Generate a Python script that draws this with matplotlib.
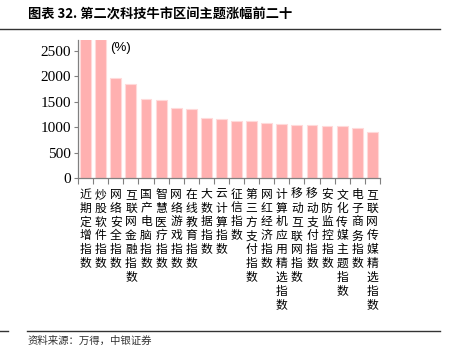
import matplotlib
matplotlib.use('Agg')
import matplotlib.pyplot as plt
import numpy as np
from matplotlib.lines import Line2D

plt.rcParams['font.family'] = ['Noto Sans CJK SC', 'DejaVu Sans']
plt.rcParams['axes.unicode_minus'] = False

# data
themes = ['近期定增指数', '炒股软件指数', '网络安全指数', '互联网金融指数', '国产电脑指数',
          '智慧医疗指数', '网络游戏指数', '在线教育指数', '大数据指数', '云计算指数',
          '征信指数', '第三方支付指数', '网红经济指数', '计算机应用精选指数', '移动互联网指数',
          '移动支付指数', '安防监控指数', '文化传媒主题指数', '电子商务指数', '互联网传媒精选指数']
gains = [2750, 2740, 1967, 1849, 1556, 1537, 1373, 1354, 1178, 1152,
         1126, 1120, 1081, 1061, 1048, 1042, 1029, 1022, 977, 911]
yticks = [0, 500, 1000, 1500, 2000, 2500]

title = '图表 32. 第二次科技牛市区间主题涨幅前二十'
source = '资料来源：万得，中银证券'

fig = plt.figure(figsize=(4.49, 3.61), dpi=100)
ax = fig.add_axes([0.174, 0.507, 0.672, 0.382])

x = np.arange(len(themes))
ax.bar(x, gains, width=0.72, color='#FFB0B0', edgecolor='#FFDADA', linewidth=0.8)

ax.set_xlim(-0.5, len(themes) - 0.5)
ax.set_ylim(0, 2710)
ax.set_yticks(yticks)
ax.set_yticklabels([str(v) for v in yticks], family='Liberation Serif', fontsize=11)

ax.set_xticks(x)
ax.set_xticklabels(['\n'.join(t) for t in themes], fontsize=8.5, va='top', linespacing=1.09)
ax.tick_params(axis='x', which='major', length=0, pad=7)
ax.set_xticks(np.arange(-0.5, len(themes), 1), minor=True)
ax.tick_params(axis='x', which='minor', length=4, color='#808080', width=0.8, direction='out')
ax.tick_params(axis='y', length=3, color='#808080', width=0.8, direction='out', pad=2)

for s in ['top', 'right']:
    ax.spines[s].set_visible(False)
for s in ['left', 'bottom']:
    ax.spines[s].set_color('#808080')
    ax.spines[s].set_linewidth(0.9)

ax.text(0.106, 0.985, '(%)', transform=ax.transAxes, fontsize=9.5, family='Liberation Sans',
        ha='left', va='top')

fig.text(28 / 449, 1 - 15 / 361, title, fontsize=9.5, fontweight='bold', ha='left', va='center')
fig.add_artist(Line2D([0, 440 / 449], [1 - 28.5 / 361] * 2, color='#333333', lw=1.0))
fig.add_artist(Line2D([0, 8 / 449], [1 - 330.5 / 361] * 2, color='#333333', lw=1.0))
fig.add_artist(Line2D([27 / 449, 440 / 449], [1 - 330.5 / 361] * 2, color='#333333', lw=1.0))
fig.text(28 / 449, 1 - 341 / 361, source, fontsize=7.5, style='italic', color='#333333',
         ha='left', va='center')

fig.savefig('out.png', dpi=100)
